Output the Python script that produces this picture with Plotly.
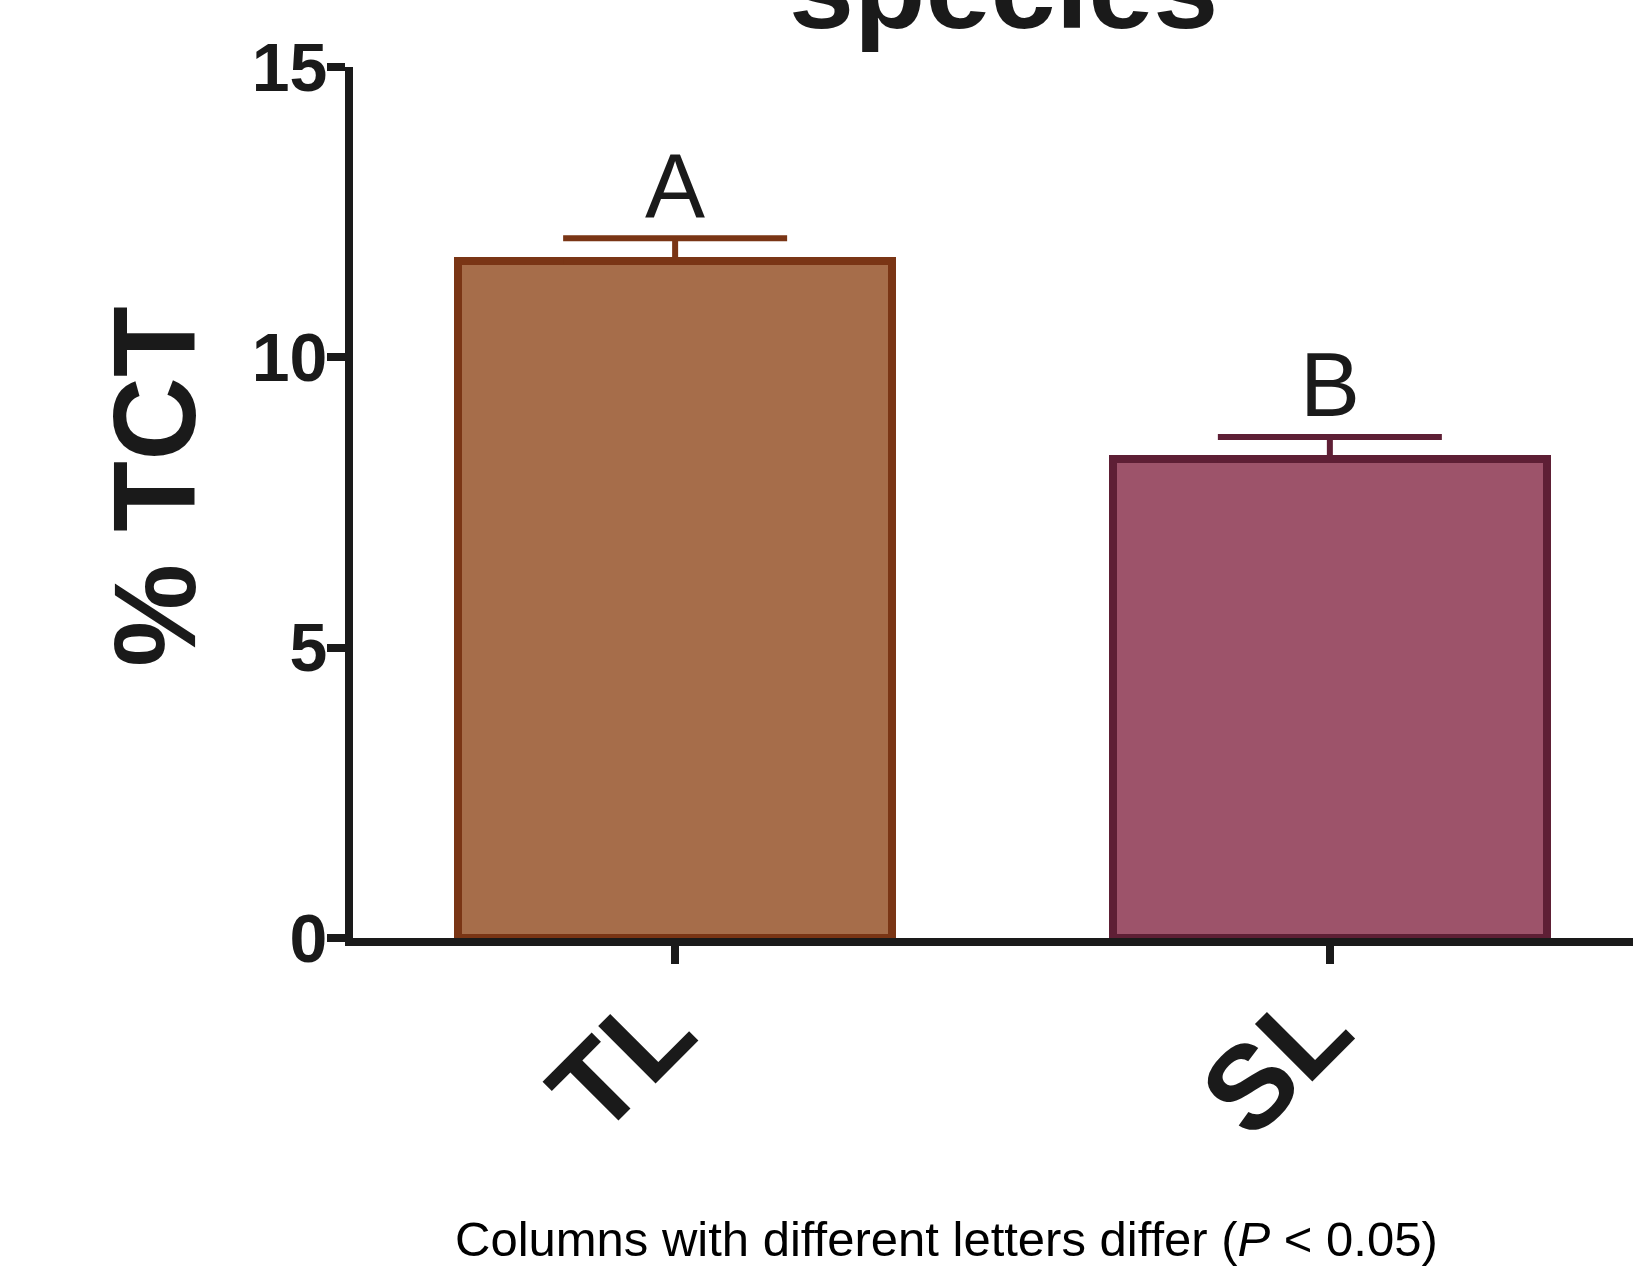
import plotly.graph_objects as go

# ---- data ----
categories = ["TL", "SL"]
values = [11.66, 8.25]
sem = [0.39, 0.38]
letters = ["A", "B"]
fill_colors = ["#a66d4a", "#9d536a"]
line_colors = ["#7a3515", "#5e1f35"]
y_ticks = [0, 5, 10, 15]
title_text = "species"
y_title = "% TCT"
footnote = "Columns with different letters differ (<i>P</i> < 0.05)"

W, H = 1633, 1269
L, R, T, B = 353, 0, 67, 331
plot_top, plot_bot = T, H - B


def py(pix):
    """pixel row -> paper y"""
    return (plot_bot - pix) / (plot_bot - plot_top)


def px(pix):
    return (pix - L) / (W - L - R)


INK = "#1a1a1a"
BOLD = "Liberation Sans, Arial, sans-serif"
NARROW = "Liberation Sans Narrow, Arial Narrow, Liberation Sans, sans-serif"

fig = go.Figure()
for i, c in enumerate(categories):
    fig.add_trace(go.Bar(
        x=[c], y=[values[i]], width=0.663,
        marker=dict(color=fill_colors[i], line=dict(color=line_colors[i], width=8)),
        error_y=dict(type="data", symmetric=False, array=[sem[i]], arrayminus=[0],
                     color=line_colors[i], thickness=6, width=112),
        showlegend=False,
    ))
    fig.add_annotation(x=c, y=values[i] + sem[i], xref="x", yref="y",
                       text=letters[i], showarrow=False, yanchor="bottom",
                       font=dict(family=BOLD, size=90, color=INK))
    # rotated category label
    fig.add_annotation(x=c, y=py(1060), xref="x", yref="paper",
                       text=c, showarrow=False, textangle=-45,
                       xanchor="center", yanchor="middle", xshift=-54,
                       font=dict(family=BOLD, size=118, color=INK, weight="bold"))

fig.add_annotation(x=px(1003), y=py(55), xref="paper", yref="paper",
                   text=title_text, showarrow=False, yanchor="bottom", xanchor="center",
                   font=dict(family=BOLD, size=117, color=INK, weight="bold"))
fig.add_annotation(x=px(155), y=py(487), xref="paper", yref="paper",
                   text=y_title, showarrow=False, textangle=-90,
                   xanchor="center", yanchor="middle",
                   font=dict(family=BOLD, size=116, color=INK, weight="bold"))
fig.add_annotation(x=px(946), y=py(1268), xref="paper", yref="paper",
                   text=footnote, showarrow=False, yanchor="bottom", xanchor="center",
                   font=dict(family=NARROW, size=49, color="#000000"))

fig.update_layout(
    width=W, height=H,
    margin=dict(l=L, r=R, t=T, b=B, pad=0),
    paper_bgcolor="white", plot_bgcolor="white",
    bargap=0,
    xaxis=dict(range=[-0.492, 1.463], showgrid=False, zeroline=False,
               showline=True, linecolor=INK, linewidth=8,
               ticks="outside", ticklen=18, tickwidth=8, tickcolor=INK,
               showticklabels=False),
    yaxis=dict(range=[0, 15], tickvals=y_ticks, showgrid=False, zeroline=False,
               showline=True, linecolor=INK, linewidth=8,
               ticks="outside", ticklen=18, tickwidth=8, tickcolor=INK,
               ticklabelstandoff=-14,
               tickfont=dict(family=NARROW, size=68, color=INK, weight="bold")),
)

fig.write_html("out.html")
